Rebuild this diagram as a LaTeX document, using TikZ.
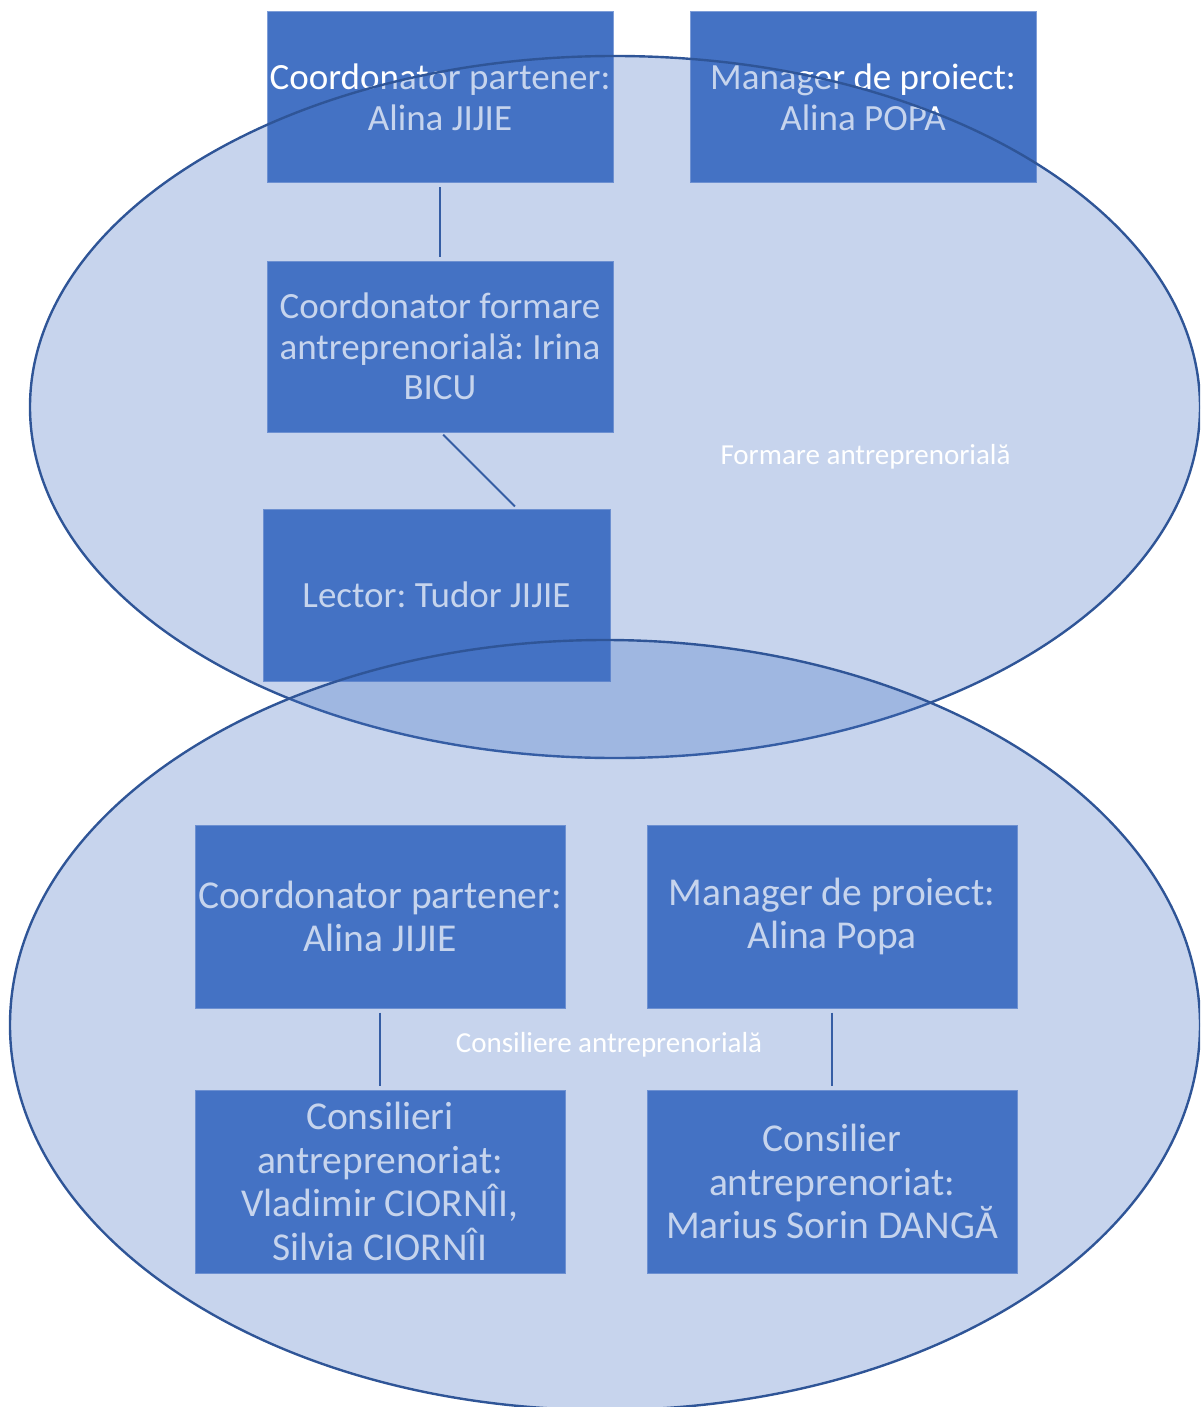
\documentclass[tikz,border=0pt]{standalone}
\usepackage{fontspec}
\setmainfont{Carlito}
\frenchspacing
\definecolor{boxblue}{HTML}{4472C4}
\definecolor{darkblue}{HTML}{2F5597}
\definecolor{edgeblue}{HTML}{7F9ED8}
\begin{document}
\begin{tikzpicture}[x=1pt,y=-1pt,
  box/.style={rectangle, fill=boxblue, draw=edgeblue, line width=1pt, text=white, align=center, inner sep=0pt, execute at begin node=\frenchspacing},
  topbox/.style={box, minimum width=346pt, minimum height=171pt, font=\fontsize{37}{40.6}\selectfont},
  botbox/.style={box, minimum width=370pt, minimum height=183pt, font=\fontsize{39.5}{43.4}\selectfont},
  conn/.style={draw=darkblue, line width=2pt, shorten <=4pt, shorten >=4pt},
  ell/.style={fill=boxblue, fill opacity=0.3, draw=darkblue, draw opacity=1, line width=2.4pt},
  ellabel/.style={text=white, font=\fontsize{29}{32}\selectfont, inner sep=0pt}]
\useasboundingbox (0,0) rectangle (1200,1407);
\clip (0,0) rectangle (1200,1407);
% top group boxes
\node[topbox] (b1) at (440,97.5) {Coordonator partener:\\Alina JIJIE};
\node[topbox] (b2) at (863,97.5) {Manager de proiect:\\Alina POPA};
\node[topbox] (b3) at (440,346.5) {Coordonator formare\\antreprenorială: Irina\\BICU};
\node[topbox, minimum width=347pt, minimum height=172pt] (b4) at (436.5,595) {Lector: Tudor JIJIE};
% bottom group boxes
\node[botbox] (b5) at (380,916.5) {Coordonator partener:\\Alina JIJIE};
\node[botbox] (b6) at (832,916.5) {Manager de proiect:\\Alina Popa};
\node[botbox] (b7) at (380,1181.5) {Consilieri\\antreprenoriat:\\Vladimir CIORNÎI,\\Silvia CIORNÎI};
\node[botbox] (b8) at (832,1181.5) {Consilier\\antreprenoriat:\\Marius Sorin DANGĂ};
% connectors
\draw[conn] (b1.south) -- (b3.north);
\draw[conn, shorten <=3pt, shorten >=3pt] ([xshift=1pt]b3.south) -- ([xshift=80.5pt]b4.north);
\draw[conn] (b5.south) -- (b7.north);
\draw[conn] (b6.south) -- (b8.north);
% ellipses
\draw[ell] (615,407) ellipse [x radius=585pt, y radius=351pt];
\draw[ell] (605,1025) ellipse [x radius=595pt, y radius=385pt];
% ellipse labels
\node[ellabel] (l1) at (865.5,457) {Formare antreprenorială};
\node[ellabel] (l2) at (609,1045) {Consiliere antreprenorială};
\end{tikzpicture}
\end{document}
